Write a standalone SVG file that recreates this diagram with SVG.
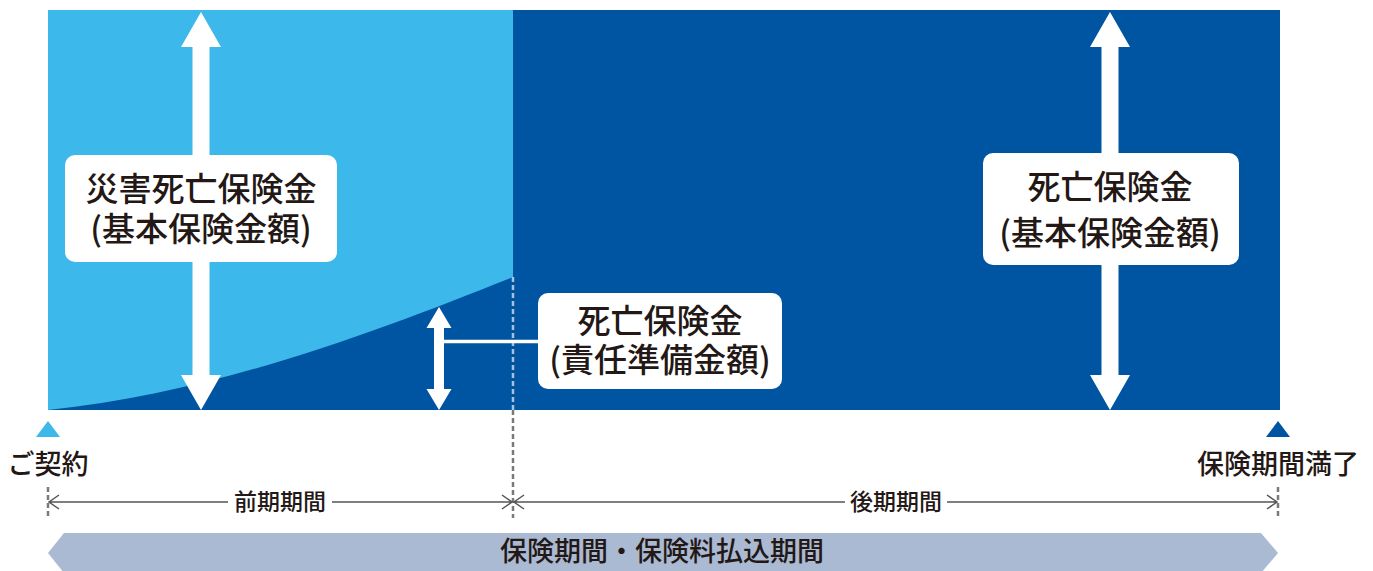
<svg xmlns="http://www.w3.org/2000/svg" width="1373" height="571" viewBox="0 0 1373 571">
<style>
.t{font-family:"Noto Sans CJK JP","Noto Sans CJK SC",sans-serif;fill:#231815;text-anchor:middle;font-weight:500}
.n{font-size:33px}
.box{fill:#fff}
.arr{fill:#fff}
.dim{stroke:#555;stroke-width:1.5;fill:none}
</style>
<rect width="1373" height="571" fill="#fff"/>
<g id="chart">
<rect x="48" y="10" width="1232" height="400" fill="#0055a2"/>
<path d="M48,10 H513 V277 C380,330 220,392 48,410 Z" fill="#3db8ea"/>
</g>
<g id="connectors">
<line x1="513" y1="277" x2="513" y2="410" stroke="#a9c0dc" stroke-width="2.5" stroke-dasharray="5 3"/>
<line x1="513" y1="410" x2="513" y2="518" stroke="#7a7a7a" stroke-width="2.5" stroke-dasharray="5 3"/>
<line x1="48" y1="487" x2="48" y2="518" stroke="#7a7a7a" stroke-width="2.5" stroke-dasharray="5 3"/>
<line x1="1278" y1="487" x2="1278" y2="518" stroke="#7a7a7a" stroke-width="2.5" stroke-dasharray="5 3"/>
<line x1="439" y1="341.5" x2="540" y2="341.5" stroke="#fff" stroke-width="3.5"/>
<path class="dim" d="M49,502 H228 M332,502 H512 M59,495 L49,502 L59,509 M502,495 L512,502 L502,509"/>
<path class="dim" d="M514,502 H845 M947,502 H1277 M524,495 L514,502 L524,509 M1267,495 L1277,502 L1267,509"/>
</g>
<g id="arrow-left">
<polygon class="arr" points="201,12 221,47 209.5,47 209.5,375 221,375 201,410 181,375 192.5,375 192.5,47 181,47"/>
</g>
<g id="arrow-right">
<polygon class="arr" points="1110,12 1130,47 1118.5,47 1118.5,375 1130,375 1110,410 1090,375 1101.5,375 1101.5,47 1090,47"/>
</g>
<g id="arrow-small">
<polygon class="arr" points="439,307 451.5,328 444,328 444,389 451.5,389 439,410 426.5,389 434,389 434,328 426.5,328"/>
</g>
<g id="node-left">
<rect class="box" x="65" y="155" width="272" height="107" rx="10"/>
<text class="t n" x="201" y="201">災害死亡保険金</text>
<text class="t n" x="201" y="241">(基本保険金額)</text>
</g>
<g id="node-right">
<rect class="box" x="983" y="153" width="256" height="112" rx="10"/>
<text class="t n" x="1110" y="199">死亡保険金</text>
<text class="t n" x="1110" y="245">(基本保険金額)</text>
</g>
<g id="node-middle">
<rect class="box" x="538" y="293" width="244" height="96" rx="10"/>
<text class="t n" x="660" y="333">死亡保険金</text>
<text class="t n" x="660" y="372">(責任準備金額)</text>
</g>
<g id="timeline">
<polygon points="36,437 48,421 60,437" fill="#3db8ea"/>
<polygon points="1266,437 1278,421 1290,437" fill="#0055a2"/>
<text class="t" x="48" y="474" font-size="27">ご契約</text>
<text class="t" x="1278" y="474" font-size="27">保険期間満了</text>
<text class="t" x="280" y="510" font-size="23">前期期間</text>
<text class="t" x="896" y="510" font-size="23">後期期間</text>
</g>
<g id="band">
<polygon points="48,553 64,533 1261,533 1278,553 1261,573 64,573" fill="#aabad2"/>
<text class="t" x="662" y="561" font-size="27">保険期間・保険料払込期間</text>
</g>
</svg>
